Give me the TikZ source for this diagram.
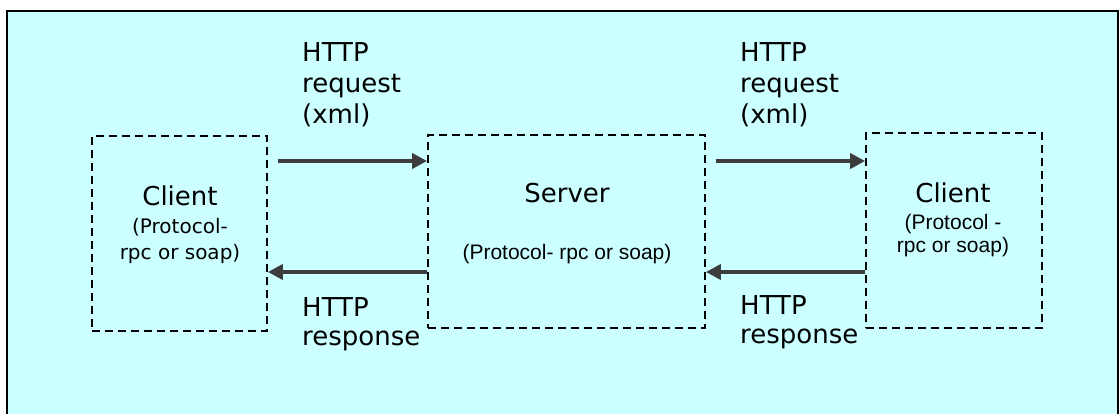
\documentclass[tikz,border=0pt]{standalone}
\usepackage{fontspec}
\setmainfont{DejaVu Sans}
\newfontfamily\arialfont{Liberation Sans}
\usetikzlibrary{arrows.meta}
\definecolor{panel}{HTML}{CCFFFF}
\definecolor{arrowgray}{HTML}{3C3C3C}
\tikzset{
  frame/.style={draw=black, line width=1.8pt, fill=panel},
  dashbox/.style={draw=black, line width=1.8pt, dash pattern=on 8pt off 5pt, inner sep=0pt},
  flow/.style={draw=arrowgray, line width=4.5pt, -{Triangle[length=15pt,width=15pt]}},
  biglabel/.style={font=\fontsize{26}{31}\selectfont, inner sep=0pt},
  toplabel/.style={font=\fontsize{26}{31}\selectfont, inner sep=0pt, align=left, anchor=north west},
  botlabel/.style={font=\fontsize{26}{29}\selectfont, inner sep=0pt, align=left, anchor=north west},
  smallv/.style={font=\fontsize{20}{26}\selectfont, inner sep=0pt, align=center, anchor=north},
  smalla/.style={font=\arialfont\fontsize{21}{23}\selectfont, inner sep=0pt, align=center},
}
\begin{document}
\begin{tikzpicture}[x=1pt, y=-1pt]
  \useasboundingbox (0,0) rectangle (1120,414);
  \fill[white] (0,0) rectangle (1120,414);
  \path[frame] (7,11) rectangle (1118,430);

  % the three parties
  \node[dashbox, minimum width=175pt, minimum height=195pt] (lc) at (179.5,233.5) {};
  \node[dashbox, minimum width=277pt, minimum height=193pt] (srv) at (566.5,231.5) {};
  \node[dashbox, minimum width=176pt, minimum height=195pt] (rc) at (954,230.5) {};

  % texts inside the boxes
  \node[biglabel, anchor=base] (lct) at (180,206) {Client};
  \node[smallv] (lcp) at (180,218) {(Protocol-\\rpc or soap)};
  \node[biglabel, anchor=base] (srvt) at (567,203) {Server};
  \node[smalla, anchor=base] (srvp) at (567,260) {(Protocol- rpc or soap)};
  \node[biglabel, anchor=base] (rct) at (953,203) {Client};
  \node[smalla, anchor=north] (rcp) at (953,214) {(Protocol -\\rpc or soap)};

  % message levels
  \coordinate (req) at (0,161);
  \coordinate (resp) at (0,272);

  % requests and responses
  \draw[flow] ([xshift=10pt]lc.east |- req) -- (srv.west |- req);
  \draw[flow] (srv.west |- resp) -- (lc.east |- resp);
  \draw[flow] ([xshift=10pt]srv.east |- req) -- (rc.west |- req);
  \draw[flow] (rc.west |- resp) -- (srv.east |- resp);

  % arrow labels
  \node[toplabel] (lreq) at (302,42) {HTTP\\request\\(xml)};
  \node[toplabel] (rreq) at (740,42) {HTTP\\request\\(xml)};
  \node[botlabel] (lresp) at (302,297) {HTTP\\response};
  \node[botlabel] (rresp) at (740,295) {HTTP\\response};
\end{tikzpicture}
\end{document}
